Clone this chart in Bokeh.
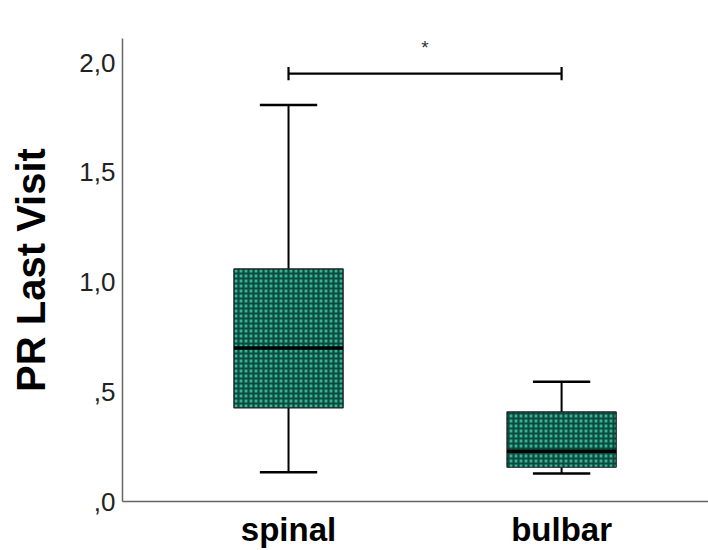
from bokeh.plotting import figure
from bokeh.models import Range1d, FixedTicker, ColumnDataSource, Label
from bokeh.embed import file_html
from bokeh.resources import INLINE

# Onset groups and their box-plot summaries (PR at last visit)
groups = ["spinal", "bulbar"]
positions = [1, 2]
whisker_low = [0.133, 0.128]
q1 = [0.427, 0.156]
median = [0.700, 0.229]
q3 = [1.060, 0.408]
whisker_high = [1.807, 0.546]

y_ticks = [0.0, 0.5, 1.0, 1.5, 2.0]
y_tick_labels = {0.0: ",0", 0.5: ",5", 1.0: "1,0", 1.5: "1,5", 2.0: "2,0"}
y_title = "PR Last Visit"

# significance bracket between the two groups
sig_level = 1.95
sig_text = "*"

box_half = 0.2
cap_half = 0.105

src = ColumnDataSource(dict(
    x=positions, lo=whisker_low, q1=q1, med=median, q3=q3, hi=whisker_high,
    left=[p - box_half for p in positions], right=[p + box_half for p in positions],
    cl=[p - cap_half for p in positions], cr=[p + cap_half for p in positions],
))

p = figure(width=708, height=550, output_backend="svg", toolbar_location=None,
           x_range=Range1d(0.392, 2.538), y_range=Range1d(0, 2.11),
           min_border_left=122, min_border_right=0, min_border_top=38, min_border_bottom=49)
p.outline_line_color = None
p.grid.grid_line_color = None
p.background_fill_color = "white"
p.border_fill_color = "white"

# whiskers
p.segment(x0="x", y0="q3", x1="x", y1="hi", source=src, line_color="black", line_width=2)
p.segment(x0="x", y0="lo", x1="x", y1="q1", source=src, line_color="black", line_width=2)
p.segment(x0="cl", y0="hi", x1="cr", y1="hi", source=src, line_color="black", line_width=2.5)
p.segment(x0="cl", y0="lo", x1="cr", y1="lo", source=src, line_color="black", line_width=2.5)

# boxes with checkered fill
p.quad(left="left", right="right", bottom="q1", top="q3", source=src,
       fill_color="#38b398", line_color="#1a1a1a", line_width=1.2,
       hatch_pattern="cross", hatch_color="#0b4a3d", hatch_scale=5, hatch_weight=2.2)
# medians
p.segment(x0="left", y0="med", x1="right", y1="med", source=src, line_color="black", line_width=3.5)

# significance bracket
p.segment(x0=[positions[0]], y0=[sig_level], x1=[positions[1]], y1=[sig_level],
          line_color="black", line_width=2.2)
p.segment(x0=positions, y0=[sig_level - 0.03] * 2, x1=positions, y1=[sig_level + 0.03] * 2,
          line_color="black", line_width=2.2)
p.add_layout(Label(x=sum(positions) / 2, y=sig_level + 0.12, text=sig_text,
                   text_align="center", text_baseline="middle",
                   text_font="Liberation Sans", text_font_size="19px", text_color="#333333"))

# axes
p.xaxis.ticker = FixedTicker(ticks=positions)
p.xaxis.major_label_overrides = {pos: g for pos, g in zip(positions, groups)}
p.xaxis.major_label_text_font = "Liberation Sans"
p.xaxis.major_label_text_font_style = "bold"
p.xaxis.major_label_text_font_size = "33px"
p.xaxis.major_label_text_color = "black"
p.xaxis.major_label_standoff = 3
p.xaxis.major_tick_line_color = None
p.xaxis.minor_tick_line_color = None
p.xaxis.axis_line_color = "#666666"
p.xaxis.axis_line_width = 1.5

p.yaxis.ticker = FixedTicker(ticks=y_ticks)
p.yaxis.major_label_overrides = y_tick_labels
p.yaxis.major_label_text_font = "Liberation Sans"
p.yaxis.major_label_text_font_size = "26px"
p.yaxis.major_label_text_color = "#222222"
p.yaxis.major_label_standoff = 1
p.yaxis.major_tick_line_color = None
p.yaxis.minor_tick_line_color = None
p.yaxis.axis_line_color = "#666666"
p.yaxis.axis_line_width = 1.5
p.yaxis.axis_label = y_title
p.yaxis.axis_label_text_font = "Liberation Sans"
p.yaxis.axis_label_text_font_style = "bold"
p.yaxis.axis_label_text_font_size = "40px"
p.yaxis.axis_label_text_color = "black"
p.yaxis.axis_label_standoff = 23

open("out.html", "w").write(file_html(p, INLINE))
